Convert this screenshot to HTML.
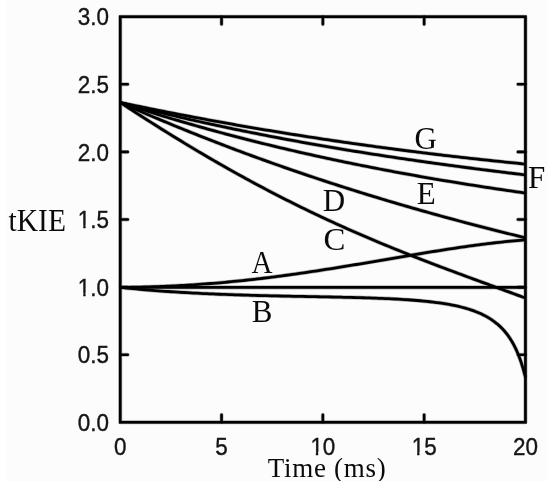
<!DOCTYPE html>
<html><head><meta charset="utf-8"><title>tKIE vs time</title><style>
html,body{margin:0;padding:0;background:#fcfcfc;}
svg{display:block;filter:blur(0.45px);}
.s{font-family:"Liberation Sans",sans-serif;font-size:22.0px;fill:#141414;}
.r{font-family:"Liberation Serif",serif;fill:#0a0a0a;}
</style></head><body>
<svg width="550" height="481" viewBox="0 0 550 481">
<rect width="550" height="481" fill="#fcfcfc"/>
<rect width="6.2" height="481" fill="#fff"/>
<rect x="548.2" width="1.8" height="481" fill="#fff"/>
<g opacity="0.28" fill="none" stroke="#000" stroke-linejoin="round">
<g stroke-width="4.20">
<path d="M120.25,102.50 L123.17,103.11 L126.08,103.72 L129.00,104.33 L131.91,104.94 L134.83,105.54 L137.74,106.14 L140.66,106.74 L143.57,107.33 L146.49,107.93 L149.40,108.52 L152.32,109.10 L155.23,109.69 L158.15,110.27 L161.06,110.85 L163.98,111.43 L166.89,112.00 L169.81,112.57 L172.72,113.14 L175.64,113.71 L178.55,114.27 L181.47,114.83 L184.38,115.39 L187.30,115.95 L190.21,116.50 L193.13,117.05 L196.04,117.60 L198.96,118.15 L201.87,118.69 L204.79,119.23 L207.70,119.77 L210.62,120.30 L213.53,120.84 L216.45,121.37 L219.36,121.90 L222.28,122.42 L225.19,122.94 L228.11,123.46 L231.02,123.98 L233.94,124.50 L236.85,125.01 L239.77,125.52 L242.68,126.03 L245.60,126.54 L248.51,127.04 L251.43,127.54 L254.34,128.04 L257.26,128.53 L260.18,129.03 L263.09,129.52 L266.01,130.01 L268.92,130.49 L271.84,130.97 L274.75,131.46 L277.67,131.93 L280.58,132.41 L283.50,132.88 L286.41,133.35 L289.33,133.82 L292.24,134.29 L295.16,134.75 L298.07,135.21 L300.99,135.67 L303.90,136.13 L306.82,136.58 L309.73,137.04 L312.65,137.49 L315.56,137.93 L318.48,138.38 L321.39,138.82 L324.31,139.26 L327.22,139.70 L330.14,140.13 L333.05,140.56 L335.97,140.99 L338.88,141.42 L341.80,141.85 L344.71,142.27 L347.63,142.69 L350.54,143.11 L353.46,143.53 L356.37,143.94 L359.29,144.35 L362.20,144.76 L365.12,145.17 L368.03,145.57 L370.95,145.98 L373.86,146.37 L376.78,146.77 L379.69,147.17 L382.61,147.56 L385.52,147.95 L388.44,148.34 L391.36,148.73 L394.27,149.11 L397.19,149.49 L400.10,149.87 L403.02,150.25 L405.93,150.62 L408.85,150.99 L411.76,151.36 L414.68,151.73 L417.59,152.10 L420.51,152.46 L423.42,152.82 L426.34,153.18 L429.25,153.54 L432.17,153.89 L435.08,154.24 L438.00,154.59 L440.91,154.94 L443.83,155.29 L446.74,155.63 L449.66,155.97 L452.57,156.31 L455.49,156.64 L458.40,156.98 L461.32,157.31 L464.23,157.64 L467.15,157.97 L470.06,158.29 L472.98,158.62 L475.89,158.94 L478.81,159.26 L481.72,159.57 L484.64,159.89 L487.55,160.20 L490.47,160.51 L493.38,160.82 L496.30,161.13 L499.21,161.43 L502.13,161.73 L505.04,162.03 L507.96,162.33 L510.87,162.62 L513.79,162.92 L516.70,163.21 L519.62,163.50 L522.53,163.78 L525.45,164.07"/>
<path d="M120.25,102.50 L123.17,103.26 L126.08,104.01 L129.00,104.76 L131.91,105.51 L134.83,106.25 L137.74,106.98 L140.66,107.72 L143.57,108.45 L146.49,109.17 L149.40,109.89 L152.32,110.60 L155.23,111.32 L158.15,112.02 L161.06,112.73 L163.98,113.42 L166.89,114.12 L169.81,114.81 L172.72,115.50 L175.64,116.18 L178.55,116.86 L181.47,117.53 L184.38,118.20 L187.30,118.87 L190.21,119.53 L193.13,120.19 L196.04,120.85 L198.96,121.50 L201.87,122.15 L204.79,122.79 L207.70,123.43 L210.62,124.07 L213.53,124.70 L216.45,125.33 L219.36,125.95 L222.28,126.57 L225.19,127.19 L228.11,127.80 L231.02,128.41 L233.94,129.02 L236.85,129.62 L239.77,130.22 L242.68,130.82 L245.60,131.41 L248.51,132.00 L251.43,132.58 L254.34,133.17 L257.26,133.74 L260.18,134.32 L263.09,134.89 L266.01,135.46 L268.92,136.02 L271.84,136.58 L274.75,137.14 L277.67,137.70 L280.58,138.25 L283.50,138.80 L286.41,139.34 L289.33,139.88 L292.24,140.42 L295.16,140.96 L298.07,141.49 L300.99,142.02 L303.90,142.54 L306.82,143.07 L309.73,143.59 L312.65,144.10 L315.56,144.62 L318.48,145.13 L321.39,145.63 L324.31,146.14 L327.22,146.64 L330.14,147.14 L333.05,147.63 L335.97,148.13 L338.88,148.62 L341.80,149.10 L344.71,149.59 L347.63,150.07 L350.54,150.55 L353.46,151.02 L356.37,151.50 L359.29,151.97 L362.20,152.44 L365.12,152.90 L368.03,153.36 L370.95,153.82 L373.86,154.28 L376.78,154.73 L379.69,155.18 L382.61,155.63 L385.52,156.08 L388.44,156.52 L391.36,156.97 L394.27,157.41 L397.19,157.84 L400.10,158.28 L403.02,158.71 L405.93,159.14 L408.85,159.56 L411.76,159.99 L414.68,160.41 L417.59,160.83 L420.51,161.25 L423.42,161.66 L426.34,162.08 L429.25,162.49 L432.17,162.90 L435.08,163.30 L438.00,163.71 L440.91,164.11 L443.83,164.51 L446.74,164.91 L449.66,165.30 L452.57,165.69 L455.49,166.09 L458.40,166.48 L461.32,166.86 L464.23,167.25 L467.15,167.63 L470.06,168.01 L472.98,168.39 L475.89,168.77 L478.81,169.15 L481.72,169.52 L484.64,169.89 L487.55,170.26 L490.47,170.63 L493.38,171.00 L496.30,171.36 L499.21,171.72 L502.13,172.09 L505.04,172.45 L507.96,172.80 L510.87,173.16 L513.79,173.51 L516.70,173.87 L519.62,174.22 L522.53,174.57 L525.45,174.92"/>
<path d="M120.25,102.50 L123.17,103.46 L126.08,104.42 L129.00,105.37 L131.91,106.31 L134.83,107.25 L137.74,108.19 L140.66,109.11 L143.57,110.04 L146.49,110.96 L149.40,111.87 L152.32,112.78 L155.23,113.68 L158.15,114.57 L161.06,115.47 L163.98,116.35 L166.89,117.23 L169.81,118.11 L172.72,118.98 L175.64,119.84 L178.55,120.71 L181.47,121.56 L184.38,122.41 L187.30,123.26 L190.21,124.10 L193.13,124.93 L196.04,125.76 L198.96,126.59 L201.87,127.41 L204.79,128.22 L207.70,129.03 L210.62,129.84 L213.53,130.64 L216.45,131.43 L219.36,132.23 L222.28,133.01 L225.19,133.79 L228.11,134.57 L231.02,135.34 L233.94,136.11 L236.85,136.87 L239.77,137.63 L242.68,138.38 L245.60,139.13 L248.51,139.88 L251.43,140.62 L254.34,141.35 L257.26,142.08 L260.18,142.81 L263.09,143.53 L266.01,144.25 L268.92,144.96 L271.84,145.67 L274.75,146.37 L277.67,147.07 L280.58,147.77 L283.50,148.46 L286.41,149.15 L289.33,149.83 L292.24,150.51 L295.16,151.18 L298.07,151.85 L300.99,152.52 L303.90,153.18 L306.82,153.84 L309.73,154.49 L312.65,155.14 L315.56,155.79 L318.48,156.43 L321.39,157.07 L324.31,157.70 L327.22,158.33 L330.14,158.95 L333.05,159.58 L335.97,160.19 L338.88,160.81 L341.80,161.42 L344.71,162.02 L347.63,162.63 L350.54,163.22 L353.46,163.82 L356.37,164.41 L359.29,165.00 L362.20,165.58 L365.12,166.16 L368.03,166.74 L370.95,167.31 L373.86,167.88 L376.78,168.44 L379.69,169.00 L382.61,169.56 L385.52,170.12 L388.44,170.67 L391.36,171.22 L394.27,171.76 L397.19,172.30 L400.10,172.84 L403.02,173.37 L405.93,173.91 L408.85,174.43 L411.76,174.96 L414.68,175.48 L417.59,176.00 L420.51,176.51 L423.42,177.02 L426.34,177.53 L429.25,178.03 L432.17,178.54 L435.08,179.03 L438.00,179.53 L440.91,180.02 L443.83,180.51 L446.74,181.00 L449.66,181.48 L452.57,181.96 L455.49,182.44 L458.40,182.91 L461.32,183.38 L464.23,183.85 L467.15,184.32 L470.06,184.78 L472.98,185.24 L475.89,185.70 L478.81,186.15 L481.72,186.60 L484.64,187.05 L487.55,187.50 L490.47,187.94 L493.38,188.38 L496.30,188.82 L499.21,189.25 L502.13,189.69 L505.04,190.12 L507.96,190.54 L510.87,190.97 L513.79,191.39 L516.70,191.81 L519.62,192.23 L522.53,192.64 L525.45,193.06"/>
<path d="M120.25,102.50 L123.17,103.79 L126.08,105.08 L129.00,106.37 L131.91,107.64 L134.83,108.92 L137.74,110.18 L140.66,111.44 L143.57,112.70 L146.49,113.95 L149.40,115.20 L152.32,116.44 L155.23,117.67 L158.15,118.90 L161.06,120.13 L163.98,121.35 L166.89,122.56 L169.81,123.77 L172.72,124.97 L175.64,126.17 L178.55,127.37 L181.47,128.56 L184.38,129.74 L187.30,130.92 L190.21,132.09 L193.13,133.26 L196.04,134.42 L198.96,135.58 L201.87,136.73 L204.79,137.88 L207.70,139.02 L210.62,140.16 L213.53,141.30 L216.45,142.43 L219.36,143.55 L222.28,144.67 L225.19,145.78 L228.11,146.89 L231.02,148.00 L233.94,149.09 L236.85,150.19 L239.77,151.28 L242.68,152.36 L245.60,153.45 L248.51,154.52 L251.43,155.59 L254.34,156.66 L257.26,157.72 L260.18,158.78 L263.09,159.83 L266.01,160.88 L268.92,161.92 L271.84,162.96 L274.75,164.00 L277.67,165.02 L280.58,166.05 L283.50,167.07 L286.41,168.09 L289.33,169.10 L292.24,170.11 L295.16,171.11 L298.07,172.11 L300.99,173.10 L303.90,174.09 L306.82,175.08 L309.73,176.06 L312.65,177.03 L315.56,178.01 L318.48,178.97 L321.39,179.94 L324.31,180.90 L327.22,181.85 L330.14,182.80 L333.05,183.75 L335.97,184.69 L338.88,185.63 L341.80,186.57 L344.71,187.50 L347.63,188.42 L350.54,189.35 L353.46,190.26 L356.37,191.18 L359.29,192.09 L362.20,192.99 L365.12,193.90 L368.03,194.79 L370.95,195.69 L373.86,196.58 L376.78,197.46 L379.69,198.35 L382.61,199.22 L385.52,200.10 L388.44,200.97 L391.36,201.83 L394.27,202.70 L397.19,203.56 L400.10,204.41 L403.02,205.26 L405.93,206.11 L408.85,206.95 L411.76,207.79 L414.68,208.63 L417.59,209.46 L420.51,210.29 L423.42,211.12 L426.34,211.94 L429.25,212.76 L432.17,213.57 L435.08,214.38 L438.00,215.19 L440.91,215.99 L443.83,216.79 L446.74,217.59 L449.66,218.38 L452.57,219.17 L455.49,219.96 L458.40,220.74 L461.32,221.52 L464.23,222.30 L467.15,223.07 L470.06,223.84 L472.98,224.61 L475.89,225.37 L478.81,226.13 L481.72,226.88 L484.64,227.64 L487.55,228.38 L490.47,229.13 L493.38,229.87 L496.30,230.61 L499.21,231.35 L502.13,232.08 L505.04,232.81 L507.96,233.54 L510.87,234.26 L513.79,234.98 L516.70,235.70 L519.62,236.42 L522.53,237.13 L525.45,237.83"/>
<path d="M120.25,102.50 L123.17,104.41 L126.08,106.31 L129.00,108.21 L131.91,110.10 L134.83,111.99 L137.74,113.87 L140.66,115.75 L143.57,117.62 L146.49,119.48 L149.40,121.34 L152.32,123.19 L155.23,125.03 L158.15,126.87 L161.06,128.70 L163.98,130.52 L166.89,132.34 L169.81,134.15 L172.72,135.95 L175.64,137.74 L178.55,139.53 L181.47,141.31 L184.38,143.08 L187.30,144.85 L190.21,146.60 L193.13,148.35 L196.04,150.09 L198.96,151.83 L201.87,153.55 L204.79,155.27 L207.70,156.98 L210.62,158.68 L213.53,160.37 L216.45,162.06 L219.36,163.73 L222.28,165.40 L225.19,167.06 L228.11,168.71 L231.02,170.35 L233.94,171.99 L236.85,173.61 L239.77,175.23 L242.68,176.83 L245.60,178.43 L248.51,180.02 L251.43,181.61 L254.34,183.18 L257.26,184.74 L260.18,186.30 L263.09,187.84 L266.01,189.38 L268.92,190.91 L271.84,192.43 L274.75,193.94 L277.67,195.44 L280.58,196.93 L283.50,198.42 L286.41,199.89 L289.33,201.36 L292.24,202.82 L295.16,204.27 L298.07,205.71 L300.99,207.14 L303.90,208.57 L306.82,209.98 L309.73,211.39 L312.65,212.79 L315.56,214.17 L318.48,215.56 L321.39,216.93 L324.31,218.29 L327.22,219.65 L330.14,221.00 L333.05,222.33 L335.97,223.67 L338.88,224.99 L341.80,226.30 L344.71,227.61 L347.63,228.91 L350.54,230.20 L353.46,231.49 L356.37,232.76 L359.29,234.03 L362.20,235.29 L365.12,236.55 L368.03,237.79 L370.95,239.03 L373.86,240.27 L376.78,241.49 L379.69,242.71 L382.61,243.92 L385.52,245.13 L388.44,246.33 L391.36,247.52 L394.27,248.71 L397.19,249.89 L400.10,251.06 L403.02,252.23 L405.93,253.39 L408.85,254.55 L411.76,255.70 L414.68,256.84 L417.59,257.98 L420.51,259.12 L423.42,260.25 L426.34,261.37 L429.25,262.50 L432.17,263.61 L435.08,264.72 L438.00,265.83 L440.91,266.94 L443.83,268.04 L446.74,269.13 L449.66,270.22 L452.57,271.31 L455.49,272.40 L458.40,273.48 L461.32,274.56 L464.23,275.64 L467.15,276.72 L470.06,277.79 L472.98,278.86 L475.89,279.93 L478.81,281.00 L481.72,282.06 L484.64,283.13 L487.55,284.19 L490.47,285.25 L493.38,286.32 L496.30,287.38 L499.21,288.44 L502.13,289.50 L505.04,290.56 L507.96,291.63 L510.87,292.69 L513.79,293.76 L516.70,294.82 L519.62,295.89 L522.53,296.96 L525.45,298.03"/>
<path d="M120.25,287.40 L123.17,287.38 L126.08,287.34 L129.00,287.31 L131.91,287.26 L134.83,287.21 L137.74,287.16 L140.66,287.09 L143.57,287.02 L146.49,286.95 L149.40,286.86 L152.32,286.77 L155.23,286.68 L158.15,286.57 L161.06,286.46 L163.98,286.35 L166.89,286.22 L169.81,286.09 L172.72,285.95 L175.64,285.81 L178.55,285.66 L181.47,285.50 L184.38,285.33 L187.30,285.16 L190.21,284.98 L193.13,284.79 L196.04,284.59 L198.96,284.39 L201.87,284.19 L204.79,283.97 L207.70,283.75 L210.62,283.52 L213.53,283.28 L216.45,283.04 L219.36,282.79 L222.28,282.53 L225.19,282.27 L228.11,282.00 L231.02,281.72 L233.94,281.44 L236.85,281.15 L239.77,280.85 L242.68,280.55 L245.60,280.24 L248.51,279.92 L251.43,279.60 L254.34,279.27 L257.26,278.93 L260.18,278.59 L263.09,278.25 L266.01,277.89 L268.92,277.53 L271.84,277.17 L274.75,276.80 L277.67,276.42 L280.58,276.04 L283.50,275.65 L286.41,275.26 L289.33,274.86 L292.24,274.45 L295.16,274.04 L298.07,273.63 L300.99,273.21 L303.90,272.79 L306.82,272.36 L309.73,271.93 L312.65,271.49 L315.56,271.05 L318.48,270.60 L321.39,270.15 L324.31,269.70 L327.22,269.24 L330.14,268.78 L333.05,268.32 L335.97,267.85 L338.88,267.38 L341.80,266.91 L344.71,266.43 L347.63,265.95 L350.54,265.47 L353.46,264.99 L356.37,264.50 L359.29,264.01 L362.20,263.52 L365.12,263.03 L368.03,262.54 L370.95,262.04 L373.86,261.55 L376.78,261.05 L379.69,260.55 L382.61,260.06 L385.52,259.56 L388.44,259.06 L391.36,258.56 L394.27,258.06 L397.19,257.57 L400.10,257.07 L403.02,256.57 L405.93,256.08 L408.85,255.59 L411.76,255.09 L414.68,254.61 L417.59,254.12 L420.51,253.63 L423.42,253.15 L426.34,252.67 L429.25,252.19 L432.17,251.72 L435.08,251.25 L438.00,250.78 L440.91,250.32 L443.83,249.86 L446.74,249.41 L449.66,248.96 L452.57,248.51 L455.49,248.08 L458.40,247.64 L461.32,247.22 L464.23,246.80 L467.15,246.38 L470.06,245.97 L472.98,245.57 L475.89,245.18 L478.81,244.79 L481.72,244.42 L484.64,244.05 L487.55,243.69 L490.47,243.33 L493.38,242.99 L496.30,242.66 L499.21,242.33 L502.13,242.02 L505.04,241.72 L507.96,241.42 L510.87,241.14 L513.79,240.87 L516.70,240.61 L519.62,240.37 L522.53,240.13 L525.45,239.91"/>
<path d="M120.25,287.40 L123.44,287.73 L126.64,288.06 L129.83,288.37 L133.02,288.68 L136.22,288.97 L139.41,289.26 L142.60,289.54 L145.80,289.82 L148.99,290.08 L152.18,290.34 L155.38,290.59 L158.57,290.83 L161.76,291.06 L164.96,291.29 L168.15,291.51 L171.34,291.73 L174.54,291.93 L177.73,292.13 L180.92,292.33 L184.12,292.52 L187.31,292.70 L190.50,292.88 L193.70,293.05 L196.89,293.21 L200.08,293.37 L203.28,293.53 L206.47,293.68 L209.66,293.82 L212.86,293.96 L216.05,294.09 L219.24,294.23 L222.43,294.35 L225.63,294.47 L228.82,294.59 L232.01,294.70 L235.21,294.81 L238.40,294.92 L241.59,295.02 L244.79,295.12 L247.98,295.21 L251.17,295.31 L254.37,295.40 L257.56,295.48 L260.75,295.56 L263.95,295.65 L267.14,295.72 L270.33,295.80 L273.53,295.87 L276.72,295.94 L279.91,296.01 L283.11,296.08 L286.30,296.15 L289.49,296.21 L292.69,296.28 L295.88,296.34 L299.07,296.40 L302.27,296.46 L305.46,296.52 L308.65,296.58 L311.85,296.64 L315.04,296.70 L318.23,296.76 L321.43,296.82 L324.62,296.88 L327.81,296.95 L331.01,297.01 L334.20,297.07 L337.39,297.14 L340.59,297.21 L343.78,297.28 L346.97,297.35 L350.17,297.43 L353.36,297.51 L356.55,297.59 L359.75,297.67 L362.94,297.77 L366.13,297.86 L369.33,297.96 L372.52,298.07 L375.71,298.18 L378.91,298.30 L382.10,298.42 L385.29,298.56 L388.49,298.70 L391.68,298.85 L394.87,299.01 L398.07,299.18 L401.26,299.37 L404.45,299.56 L407.64,299.77 L410.84,300.00 L414.03,300.24 L417.22,300.50 L420.42,300.77 L423.61,301.07 L426.80,301.40 L430.00,301.74 L433.19,302.11 L436.38,302.52 L439.58,302.95 L442.77,303.42 L445.96,303.93 L449.16,304.49 L452.35,305.09 L455.54,305.74 L458.74,306.46 L461.93,307.24 L465.12,308.09 L468.32,309.03 L471.51,310.06 L474.70,311.19 L477.90,312.45 L481.09,313.84 L484.28,315.39 L487.48,317.13 L490.67,319.08 L493.86,321.28 L497.06,323.78 L500.25,326.64 L500.75,327.12 L501.06,327.43 L501.38,327.74 L501.69,328.06 L502.00,328.38 L502.31,328.70 L502.63,329.03 L502.94,329.37 L503.25,329.71 L503.56,330.05 L503.88,330.40 L504.19,330.76 L504.50,331.12 L504.81,331.48 L505.13,331.86 L505.44,332.23 L505.75,332.61 L506.07,333.00 L506.38,333.40 L506.69,333.80 L507.00,334.20 L507.32,334.62 L507.63,335.04 L507.94,335.46 L508.25,335.90 L508.57,336.34 L508.88,336.78 L509.19,337.24 L509.50,337.70 L509.82,338.17 L510.13,338.64 L510.44,339.13 L510.76,339.62 L511.07,340.12 L511.38,340.63 L511.69,341.15 L512.01,341.68 L512.32,342.22 L512.63,342.76 L512.94,343.32 L513.26,343.88 L513.57,344.46 L513.88,345.04 L514.19,345.64 L514.51,346.25 L514.82,346.87 L515.13,347.50 L515.44,348.14 L515.76,348.79 L516.07,349.46 L516.38,350.14 L516.70,350.83 L517.01,351.54 L517.32,352.26 L517.63,352.99 L517.95,353.74 L518.26,354.51 L518.57,355.29 L518.88,356.08 L519.20,356.90 L519.51,357.73 L519.82,358.57 L520.13,359.44 L520.45,360.32 L520.76,361.22 L521.07,362.14 L521.39,363.09 L521.70,364.05 L522.01,365.03 L522.32,366.04 L522.64,367.07 L522.95,368.13 L523.26,369.21 L523.57,370.31 L523.89,371.44 L524.20,372.60 L524.51,373.79 L524.82,375.00 L525.14,376.25 L525.45,377.53"/>
<path d="M120.25,287.40H525.45" stroke-width="4.10"/>
</g>
<path d="M120.25,354.70h7.5M525.45,354.70h-7.5M120.25,287.10h7.5M525.45,287.10h-7.5M120.25,219.50h7.5M525.45,219.50h-7.5M120.25,151.90h7.5M525.45,151.90h-7.5M120.25,84.30h7.5M525.45,84.30h-7.5M221.55,422.30v-7.5M221.55,16.70v7.5M322.85,422.30v-7.5M322.85,16.70v7.5M424.15,422.30v-7.5M424.15,16.70v7.5" stroke-width="4.00" stroke-linecap="round"/>
<rect x="120.25" y="16.70" width="405.20" height="405.60" stroke-width="4.10"/>
</g>
<g fill="none" stroke="#000" stroke-width="2.8" stroke-linejoin="round" stroke-linecap="butt">
<path d="M120.25,102.50 L123.17,103.11 L126.08,103.72 L129.00,104.33 L131.91,104.94 L134.83,105.54 L137.74,106.14 L140.66,106.74 L143.57,107.33 L146.49,107.93 L149.40,108.52 L152.32,109.10 L155.23,109.69 L158.15,110.27 L161.06,110.85 L163.98,111.43 L166.89,112.00 L169.81,112.57 L172.72,113.14 L175.64,113.71 L178.55,114.27 L181.47,114.83 L184.38,115.39 L187.30,115.95 L190.21,116.50 L193.13,117.05 L196.04,117.60 L198.96,118.15 L201.87,118.69 L204.79,119.23 L207.70,119.77 L210.62,120.30 L213.53,120.84 L216.45,121.37 L219.36,121.90 L222.28,122.42 L225.19,122.94 L228.11,123.46 L231.02,123.98 L233.94,124.50 L236.85,125.01 L239.77,125.52 L242.68,126.03 L245.60,126.54 L248.51,127.04 L251.43,127.54 L254.34,128.04 L257.26,128.53 L260.18,129.03 L263.09,129.52 L266.01,130.01 L268.92,130.49 L271.84,130.97 L274.75,131.46 L277.67,131.93 L280.58,132.41 L283.50,132.88 L286.41,133.35 L289.33,133.82 L292.24,134.29 L295.16,134.75 L298.07,135.21 L300.99,135.67 L303.90,136.13 L306.82,136.58 L309.73,137.04 L312.65,137.49 L315.56,137.93 L318.48,138.38 L321.39,138.82 L324.31,139.26 L327.22,139.70 L330.14,140.13 L333.05,140.56 L335.97,140.99 L338.88,141.42 L341.80,141.85 L344.71,142.27 L347.63,142.69 L350.54,143.11 L353.46,143.53 L356.37,143.94 L359.29,144.35 L362.20,144.76 L365.12,145.17 L368.03,145.57 L370.95,145.98 L373.86,146.37 L376.78,146.77 L379.69,147.17 L382.61,147.56 L385.52,147.95 L388.44,148.34 L391.36,148.73 L394.27,149.11 L397.19,149.49 L400.10,149.87 L403.02,150.25 L405.93,150.62 L408.85,150.99 L411.76,151.36 L414.68,151.73 L417.59,152.10 L420.51,152.46 L423.42,152.82 L426.34,153.18 L429.25,153.54 L432.17,153.89 L435.08,154.24 L438.00,154.59 L440.91,154.94 L443.83,155.29 L446.74,155.63 L449.66,155.97 L452.57,156.31 L455.49,156.64 L458.40,156.98 L461.32,157.31 L464.23,157.64 L467.15,157.97 L470.06,158.29 L472.98,158.62 L475.89,158.94 L478.81,159.26 L481.72,159.57 L484.64,159.89 L487.55,160.20 L490.47,160.51 L493.38,160.82 L496.30,161.13 L499.21,161.43 L502.13,161.73 L505.04,162.03 L507.96,162.33 L510.87,162.62 L513.79,162.92 L516.70,163.21 L519.62,163.50 L522.53,163.78 L525.45,164.07"/>
<path d="M120.25,102.50 L123.17,103.26 L126.08,104.01 L129.00,104.76 L131.91,105.51 L134.83,106.25 L137.74,106.98 L140.66,107.72 L143.57,108.45 L146.49,109.17 L149.40,109.89 L152.32,110.60 L155.23,111.32 L158.15,112.02 L161.06,112.73 L163.98,113.42 L166.89,114.12 L169.81,114.81 L172.72,115.50 L175.64,116.18 L178.55,116.86 L181.47,117.53 L184.38,118.20 L187.30,118.87 L190.21,119.53 L193.13,120.19 L196.04,120.85 L198.96,121.50 L201.87,122.15 L204.79,122.79 L207.70,123.43 L210.62,124.07 L213.53,124.70 L216.45,125.33 L219.36,125.95 L222.28,126.57 L225.19,127.19 L228.11,127.80 L231.02,128.41 L233.94,129.02 L236.85,129.62 L239.77,130.22 L242.68,130.82 L245.60,131.41 L248.51,132.00 L251.43,132.58 L254.34,133.17 L257.26,133.74 L260.18,134.32 L263.09,134.89 L266.01,135.46 L268.92,136.02 L271.84,136.58 L274.75,137.14 L277.67,137.70 L280.58,138.25 L283.50,138.80 L286.41,139.34 L289.33,139.88 L292.24,140.42 L295.16,140.96 L298.07,141.49 L300.99,142.02 L303.90,142.54 L306.82,143.07 L309.73,143.59 L312.65,144.10 L315.56,144.62 L318.48,145.13 L321.39,145.63 L324.31,146.14 L327.22,146.64 L330.14,147.14 L333.05,147.63 L335.97,148.13 L338.88,148.62 L341.80,149.10 L344.71,149.59 L347.63,150.07 L350.54,150.55 L353.46,151.02 L356.37,151.50 L359.29,151.97 L362.20,152.44 L365.12,152.90 L368.03,153.36 L370.95,153.82 L373.86,154.28 L376.78,154.73 L379.69,155.18 L382.61,155.63 L385.52,156.08 L388.44,156.52 L391.36,156.97 L394.27,157.41 L397.19,157.84 L400.10,158.28 L403.02,158.71 L405.93,159.14 L408.85,159.56 L411.76,159.99 L414.68,160.41 L417.59,160.83 L420.51,161.25 L423.42,161.66 L426.34,162.08 L429.25,162.49 L432.17,162.90 L435.08,163.30 L438.00,163.71 L440.91,164.11 L443.83,164.51 L446.74,164.91 L449.66,165.30 L452.57,165.69 L455.49,166.09 L458.40,166.48 L461.32,166.86 L464.23,167.25 L467.15,167.63 L470.06,168.01 L472.98,168.39 L475.89,168.77 L478.81,169.15 L481.72,169.52 L484.64,169.89 L487.55,170.26 L490.47,170.63 L493.38,171.00 L496.30,171.36 L499.21,171.72 L502.13,172.09 L505.04,172.45 L507.96,172.80 L510.87,173.16 L513.79,173.51 L516.70,173.87 L519.62,174.22 L522.53,174.57 L525.45,174.92"/>
<path d="M120.25,102.50 L123.17,103.46 L126.08,104.42 L129.00,105.37 L131.91,106.31 L134.83,107.25 L137.74,108.19 L140.66,109.11 L143.57,110.04 L146.49,110.96 L149.40,111.87 L152.32,112.78 L155.23,113.68 L158.15,114.57 L161.06,115.47 L163.98,116.35 L166.89,117.23 L169.81,118.11 L172.72,118.98 L175.64,119.84 L178.55,120.71 L181.47,121.56 L184.38,122.41 L187.30,123.26 L190.21,124.10 L193.13,124.93 L196.04,125.76 L198.96,126.59 L201.87,127.41 L204.79,128.22 L207.70,129.03 L210.62,129.84 L213.53,130.64 L216.45,131.43 L219.36,132.23 L222.28,133.01 L225.19,133.79 L228.11,134.57 L231.02,135.34 L233.94,136.11 L236.85,136.87 L239.77,137.63 L242.68,138.38 L245.60,139.13 L248.51,139.88 L251.43,140.62 L254.34,141.35 L257.26,142.08 L260.18,142.81 L263.09,143.53 L266.01,144.25 L268.92,144.96 L271.84,145.67 L274.75,146.37 L277.67,147.07 L280.58,147.77 L283.50,148.46 L286.41,149.15 L289.33,149.83 L292.24,150.51 L295.16,151.18 L298.07,151.85 L300.99,152.52 L303.90,153.18 L306.82,153.84 L309.73,154.49 L312.65,155.14 L315.56,155.79 L318.48,156.43 L321.39,157.07 L324.31,157.70 L327.22,158.33 L330.14,158.95 L333.05,159.58 L335.97,160.19 L338.88,160.81 L341.80,161.42 L344.71,162.02 L347.63,162.63 L350.54,163.22 L353.46,163.82 L356.37,164.41 L359.29,165.00 L362.20,165.58 L365.12,166.16 L368.03,166.74 L370.95,167.31 L373.86,167.88 L376.78,168.44 L379.69,169.00 L382.61,169.56 L385.52,170.12 L388.44,170.67 L391.36,171.22 L394.27,171.76 L397.19,172.30 L400.10,172.84 L403.02,173.37 L405.93,173.91 L408.85,174.43 L411.76,174.96 L414.68,175.48 L417.59,176.00 L420.51,176.51 L423.42,177.02 L426.34,177.53 L429.25,178.03 L432.17,178.54 L435.08,179.03 L438.00,179.53 L440.91,180.02 L443.83,180.51 L446.74,181.00 L449.66,181.48 L452.57,181.96 L455.49,182.44 L458.40,182.91 L461.32,183.38 L464.23,183.85 L467.15,184.32 L470.06,184.78 L472.98,185.24 L475.89,185.70 L478.81,186.15 L481.72,186.60 L484.64,187.05 L487.55,187.50 L490.47,187.94 L493.38,188.38 L496.30,188.82 L499.21,189.25 L502.13,189.69 L505.04,190.12 L507.96,190.54 L510.87,190.97 L513.79,191.39 L516.70,191.81 L519.62,192.23 L522.53,192.64 L525.45,193.06"/>
<path d="M120.25,102.50 L123.17,103.79 L126.08,105.08 L129.00,106.37 L131.91,107.64 L134.83,108.92 L137.74,110.18 L140.66,111.44 L143.57,112.70 L146.49,113.95 L149.40,115.20 L152.32,116.44 L155.23,117.67 L158.15,118.90 L161.06,120.13 L163.98,121.35 L166.89,122.56 L169.81,123.77 L172.72,124.97 L175.64,126.17 L178.55,127.37 L181.47,128.56 L184.38,129.74 L187.30,130.92 L190.21,132.09 L193.13,133.26 L196.04,134.42 L198.96,135.58 L201.87,136.73 L204.79,137.88 L207.70,139.02 L210.62,140.16 L213.53,141.30 L216.45,142.43 L219.36,143.55 L222.28,144.67 L225.19,145.78 L228.11,146.89 L231.02,148.00 L233.94,149.09 L236.85,150.19 L239.77,151.28 L242.68,152.36 L245.60,153.45 L248.51,154.52 L251.43,155.59 L254.34,156.66 L257.26,157.72 L260.18,158.78 L263.09,159.83 L266.01,160.88 L268.92,161.92 L271.84,162.96 L274.75,164.00 L277.67,165.02 L280.58,166.05 L283.50,167.07 L286.41,168.09 L289.33,169.10 L292.24,170.11 L295.16,171.11 L298.07,172.11 L300.99,173.10 L303.90,174.09 L306.82,175.08 L309.73,176.06 L312.65,177.03 L315.56,178.01 L318.48,178.97 L321.39,179.94 L324.31,180.90 L327.22,181.85 L330.14,182.80 L333.05,183.75 L335.97,184.69 L338.88,185.63 L341.80,186.57 L344.71,187.50 L347.63,188.42 L350.54,189.35 L353.46,190.26 L356.37,191.18 L359.29,192.09 L362.20,192.99 L365.12,193.90 L368.03,194.79 L370.95,195.69 L373.86,196.58 L376.78,197.46 L379.69,198.35 L382.61,199.22 L385.52,200.10 L388.44,200.97 L391.36,201.83 L394.27,202.70 L397.19,203.56 L400.10,204.41 L403.02,205.26 L405.93,206.11 L408.85,206.95 L411.76,207.79 L414.68,208.63 L417.59,209.46 L420.51,210.29 L423.42,211.12 L426.34,211.94 L429.25,212.76 L432.17,213.57 L435.08,214.38 L438.00,215.19 L440.91,215.99 L443.83,216.79 L446.74,217.59 L449.66,218.38 L452.57,219.17 L455.49,219.96 L458.40,220.74 L461.32,221.52 L464.23,222.30 L467.15,223.07 L470.06,223.84 L472.98,224.61 L475.89,225.37 L478.81,226.13 L481.72,226.88 L484.64,227.64 L487.55,228.38 L490.47,229.13 L493.38,229.87 L496.30,230.61 L499.21,231.35 L502.13,232.08 L505.04,232.81 L507.96,233.54 L510.87,234.26 L513.79,234.98 L516.70,235.70 L519.62,236.42 L522.53,237.13 L525.45,237.83"/>
<path d="M120.25,102.50 L123.17,104.41 L126.08,106.31 L129.00,108.21 L131.91,110.10 L134.83,111.99 L137.74,113.87 L140.66,115.75 L143.57,117.62 L146.49,119.48 L149.40,121.34 L152.32,123.19 L155.23,125.03 L158.15,126.87 L161.06,128.70 L163.98,130.52 L166.89,132.34 L169.81,134.15 L172.72,135.95 L175.64,137.74 L178.55,139.53 L181.47,141.31 L184.38,143.08 L187.30,144.85 L190.21,146.60 L193.13,148.35 L196.04,150.09 L198.96,151.83 L201.87,153.55 L204.79,155.27 L207.70,156.98 L210.62,158.68 L213.53,160.37 L216.45,162.06 L219.36,163.73 L222.28,165.40 L225.19,167.06 L228.11,168.71 L231.02,170.35 L233.94,171.99 L236.85,173.61 L239.77,175.23 L242.68,176.83 L245.60,178.43 L248.51,180.02 L251.43,181.61 L254.34,183.18 L257.26,184.74 L260.18,186.30 L263.09,187.84 L266.01,189.38 L268.92,190.91 L271.84,192.43 L274.75,193.94 L277.67,195.44 L280.58,196.93 L283.50,198.42 L286.41,199.89 L289.33,201.36 L292.24,202.82 L295.16,204.27 L298.07,205.71 L300.99,207.14 L303.90,208.57 L306.82,209.98 L309.73,211.39 L312.65,212.79 L315.56,214.17 L318.48,215.56 L321.39,216.93 L324.31,218.29 L327.22,219.65 L330.14,221.00 L333.05,222.33 L335.97,223.67 L338.88,224.99 L341.80,226.30 L344.71,227.61 L347.63,228.91 L350.54,230.20 L353.46,231.49 L356.37,232.76 L359.29,234.03 L362.20,235.29 L365.12,236.55 L368.03,237.79 L370.95,239.03 L373.86,240.27 L376.78,241.49 L379.69,242.71 L382.61,243.92 L385.52,245.13 L388.44,246.33 L391.36,247.52 L394.27,248.71 L397.19,249.89 L400.10,251.06 L403.02,252.23 L405.93,253.39 L408.85,254.55 L411.76,255.70 L414.68,256.84 L417.59,257.98 L420.51,259.12 L423.42,260.25 L426.34,261.37 L429.25,262.50 L432.17,263.61 L435.08,264.72 L438.00,265.83 L440.91,266.94 L443.83,268.04 L446.74,269.13 L449.66,270.22 L452.57,271.31 L455.49,272.40 L458.40,273.48 L461.32,274.56 L464.23,275.64 L467.15,276.72 L470.06,277.79 L472.98,278.86 L475.89,279.93 L478.81,281.00 L481.72,282.06 L484.64,283.13 L487.55,284.19 L490.47,285.25 L493.38,286.32 L496.30,287.38 L499.21,288.44 L502.13,289.50 L505.04,290.56 L507.96,291.63 L510.87,292.69 L513.79,293.76 L516.70,294.82 L519.62,295.89 L522.53,296.96 L525.45,298.03"/>
<path d="M120.25,287.40 L123.17,287.38 L126.08,287.34 L129.00,287.31 L131.91,287.26 L134.83,287.21 L137.74,287.16 L140.66,287.09 L143.57,287.02 L146.49,286.95 L149.40,286.86 L152.32,286.77 L155.23,286.68 L158.15,286.57 L161.06,286.46 L163.98,286.35 L166.89,286.22 L169.81,286.09 L172.72,285.95 L175.64,285.81 L178.55,285.66 L181.47,285.50 L184.38,285.33 L187.30,285.16 L190.21,284.98 L193.13,284.79 L196.04,284.59 L198.96,284.39 L201.87,284.19 L204.79,283.97 L207.70,283.75 L210.62,283.52 L213.53,283.28 L216.45,283.04 L219.36,282.79 L222.28,282.53 L225.19,282.27 L228.11,282.00 L231.02,281.72 L233.94,281.44 L236.85,281.15 L239.77,280.85 L242.68,280.55 L245.60,280.24 L248.51,279.92 L251.43,279.60 L254.34,279.27 L257.26,278.93 L260.18,278.59 L263.09,278.25 L266.01,277.89 L268.92,277.53 L271.84,277.17 L274.75,276.80 L277.67,276.42 L280.58,276.04 L283.50,275.65 L286.41,275.26 L289.33,274.86 L292.24,274.45 L295.16,274.04 L298.07,273.63 L300.99,273.21 L303.90,272.79 L306.82,272.36 L309.73,271.93 L312.65,271.49 L315.56,271.05 L318.48,270.60 L321.39,270.15 L324.31,269.70 L327.22,269.24 L330.14,268.78 L333.05,268.32 L335.97,267.85 L338.88,267.38 L341.80,266.91 L344.71,266.43 L347.63,265.95 L350.54,265.47 L353.46,264.99 L356.37,264.50 L359.29,264.01 L362.20,263.52 L365.12,263.03 L368.03,262.54 L370.95,262.04 L373.86,261.55 L376.78,261.05 L379.69,260.55 L382.61,260.06 L385.52,259.56 L388.44,259.06 L391.36,258.56 L394.27,258.06 L397.19,257.57 L400.10,257.07 L403.02,256.57 L405.93,256.08 L408.85,255.59 L411.76,255.09 L414.68,254.61 L417.59,254.12 L420.51,253.63 L423.42,253.15 L426.34,252.67 L429.25,252.19 L432.17,251.72 L435.08,251.25 L438.00,250.78 L440.91,250.32 L443.83,249.86 L446.74,249.41 L449.66,248.96 L452.57,248.51 L455.49,248.08 L458.40,247.64 L461.32,247.22 L464.23,246.80 L467.15,246.38 L470.06,245.97 L472.98,245.57 L475.89,245.18 L478.81,244.79 L481.72,244.42 L484.64,244.05 L487.55,243.69 L490.47,243.33 L493.38,242.99 L496.30,242.66 L499.21,242.33 L502.13,242.02 L505.04,241.72 L507.96,241.42 L510.87,241.14 L513.79,240.87 L516.70,240.61 L519.62,240.37 L522.53,240.13 L525.45,239.91"/>
<path d="M120.25,287.40 L123.44,287.73 L126.64,288.06 L129.83,288.37 L133.02,288.68 L136.22,288.97 L139.41,289.26 L142.60,289.54 L145.80,289.82 L148.99,290.08 L152.18,290.34 L155.38,290.59 L158.57,290.83 L161.76,291.06 L164.96,291.29 L168.15,291.51 L171.34,291.73 L174.54,291.93 L177.73,292.13 L180.92,292.33 L184.12,292.52 L187.31,292.70 L190.50,292.88 L193.70,293.05 L196.89,293.21 L200.08,293.37 L203.28,293.53 L206.47,293.68 L209.66,293.82 L212.86,293.96 L216.05,294.09 L219.24,294.23 L222.43,294.35 L225.63,294.47 L228.82,294.59 L232.01,294.70 L235.21,294.81 L238.40,294.92 L241.59,295.02 L244.79,295.12 L247.98,295.21 L251.17,295.31 L254.37,295.40 L257.56,295.48 L260.75,295.56 L263.95,295.65 L267.14,295.72 L270.33,295.80 L273.53,295.87 L276.72,295.94 L279.91,296.01 L283.11,296.08 L286.30,296.15 L289.49,296.21 L292.69,296.28 L295.88,296.34 L299.07,296.40 L302.27,296.46 L305.46,296.52 L308.65,296.58 L311.85,296.64 L315.04,296.70 L318.23,296.76 L321.43,296.82 L324.62,296.88 L327.81,296.95 L331.01,297.01 L334.20,297.07 L337.39,297.14 L340.59,297.21 L343.78,297.28 L346.97,297.35 L350.17,297.43 L353.36,297.51 L356.55,297.59 L359.75,297.67 L362.94,297.77 L366.13,297.86 L369.33,297.96 L372.52,298.07 L375.71,298.18 L378.91,298.30 L382.10,298.42 L385.29,298.56 L388.49,298.70 L391.68,298.85 L394.87,299.01 L398.07,299.18 L401.26,299.37 L404.45,299.56 L407.64,299.77 L410.84,300.00 L414.03,300.24 L417.22,300.50 L420.42,300.77 L423.61,301.07 L426.80,301.40 L430.00,301.74 L433.19,302.11 L436.38,302.52 L439.58,302.95 L442.77,303.42 L445.96,303.93 L449.16,304.49 L452.35,305.09 L455.54,305.74 L458.74,306.46 L461.93,307.24 L465.12,308.09 L468.32,309.03 L471.51,310.06 L474.70,311.19 L477.90,312.45 L481.09,313.84 L484.28,315.39 L487.48,317.13 L490.67,319.08 L493.86,321.28 L497.06,323.78 L500.25,326.64 L500.75,327.12 L501.06,327.43 L501.38,327.74 L501.69,328.06 L502.00,328.38 L502.31,328.70 L502.63,329.03 L502.94,329.37 L503.25,329.71 L503.56,330.05 L503.88,330.40 L504.19,330.76 L504.50,331.12 L504.81,331.48 L505.13,331.86 L505.44,332.23 L505.75,332.61 L506.07,333.00 L506.38,333.40 L506.69,333.80 L507.00,334.20 L507.32,334.62 L507.63,335.04 L507.94,335.46 L508.25,335.90 L508.57,336.34 L508.88,336.78 L509.19,337.24 L509.50,337.70 L509.82,338.17 L510.13,338.64 L510.44,339.13 L510.76,339.62 L511.07,340.12 L511.38,340.63 L511.69,341.15 L512.01,341.68 L512.32,342.22 L512.63,342.76 L512.94,343.32 L513.26,343.88 L513.57,344.46 L513.88,345.04 L514.19,345.64 L514.51,346.25 L514.82,346.87 L515.13,347.50 L515.44,348.14 L515.76,348.79 L516.07,349.46 L516.38,350.14 L516.70,350.83 L517.01,351.54 L517.32,352.26 L517.63,352.99 L517.95,353.74 L518.26,354.51 L518.57,355.29 L518.88,356.08 L519.20,356.90 L519.51,357.73 L519.82,358.57 L520.13,359.44 L520.45,360.32 L520.76,361.22 L521.07,362.14 L521.39,363.09 L521.70,364.05 L522.01,365.03 L522.32,366.04 L522.64,367.07 L522.95,368.13 L523.26,369.21 L523.57,370.31 L523.89,371.44 L524.20,372.60 L524.51,373.79 L524.82,375.00 L525.14,376.25 L525.45,377.53"/>
<path d="M120.25,287.40H525.45" stroke-width="2.7"/>
</g>
<g fill="none" stroke="#000" stroke-width="2.7">
<path d="M120.25,354.70h7.5M525.45,354.70h-7.5M120.25,287.10h7.5M525.45,287.10h-7.5M120.25,219.50h7.5M525.45,219.50h-7.5M120.25,151.90h7.5M525.45,151.90h-7.5M120.25,84.30h7.5M525.45,84.30h-7.5M221.55,422.30v-7.5M221.55,16.70v7.5M322.85,422.30v-7.5M322.85,16.70v7.5M424.15,422.30v-7.5M424.15,16.70v7.5" stroke-width="2.6" stroke-linecap="round"/>
<rect x="120.25" y="16.70" width="405.20" height="405.60"/>
</g>
<g class="s" text-anchor="end" stroke="#141414" stroke-width="0.35">
<text transform="translate(109.0 430.90) scale(1.02 1.1)">0.0</text>
<text transform="translate(109.0 363.30) scale(1.02 1.1)">0.5</text>
<text transform="translate(109.0 295.70) scale(1.02 1.1)">1.0</text>
<text transform="translate(109.0 228.10) scale(1.02 1.1)">1.5</text>
<text transform="translate(109.0 160.50) scale(1.02 1.1)">2.0</text>
<text transform="translate(109.0 92.90) scale(1.02 1.1)">2.5</text>
<text transform="translate(109.0 25.30) scale(1.02 1.1)">3.0</text>
</g>
<g class="s" text-anchor="middle" stroke="#141414" stroke-width="0.35">
<text transform="translate(120.25 454.9) scale(1.02 1.1)">0</text>
<text transform="translate(221.55 454.9) scale(1.02 1.1)">5</text>
<text transform="translate(322.85 454.9) scale(1.02 1.1)">10</text>
<text transform="translate(424.15 454.9) scale(1.02 1.1)">15</text>
<text transform="translate(525.45 454.9) scale(1.02 1.1)">20</text>
</g>
<g fill="#fcfcfc">
<rect x="78.51" y="292.86" width="4.73" height="4.24"/>
<rect x="85.63" y="292.86" width="4.56" height="4.24"/>
<rect x="78.51" y="225.26" width="4.73" height="4.24"/>
<rect x="85.63" y="225.26" width="4.56" height="4.24"/>
<rect x="311.08" y="452.06" width="4.73" height="4.24"/>
<rect x="318.20" y="452.06" width="4.56" height="4.24"/>
<rect x="412.38" y="452.06" width="4.73" height="4.24"/>
<rect x="419.50" y="452.06" width="4.56" height="4.24"/>
</g>
<g class="r">
<text transform="translate(8.6 230.6) scale(1 1.045)" font-size="29.5">tKIE</text>
<text x="267.8" y="477" font-size="27" letter-spacing="0.7">Time (ms)</text>
<g font-size="31">
<text transform="translate(251.4 273.4) scale(0.94 1)">A</text>
<text x="251.8" y="321.6">B</text>
<text transform="translate(323.4 249.9) scale(1.06 1.02)">C</text>
<text x="322.8" y="210.6">D</text>
<text x="416.8" y="204.4">E</text>
<text x="528" y="187.6">F</text>
<text x="414.6" y="148.8">G</text>
</g>
</g>
</svg>
</body></html>
